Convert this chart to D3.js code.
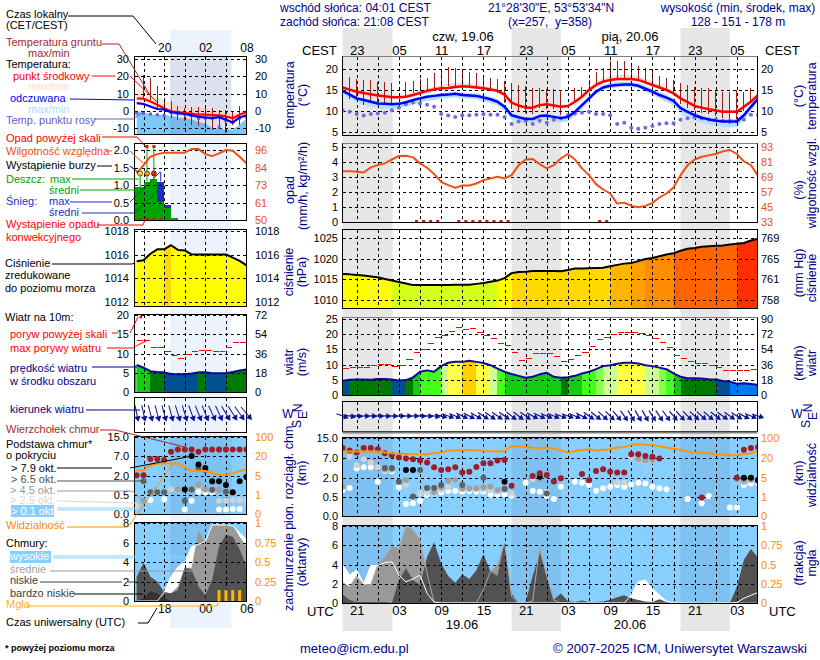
<!DOCTYPE html>
<html>
<head>
<meta charset="utf-8">
<script src="https://d3js.org/d3.v7.min.js"></script>
<style>
html, body { margin: 0; padding: 0; background: #fff; }
svg { display: block; }
text { font-family: "Liberation Sans", Arial, sans-serif; }
</style>
</head>
<body>
<svg id="chart" width="820" height="660"></svg>
<script>
// main panels: one value per hour, hour 0 = 18.06 19 UTC
var tempMid = [15.6,15.1,14.6,14.3,14.0,13.7,13.5,13.3,13.25,13.4,13.8,14.3,14.8,15.1,15.4,15.5,15.7,15.9,15.8,15.6,15.4,15.1,14.8,13.9,12.0,11.3,10.8,10.8,11.4,11.6,11.3,11.0,11.2,12.2,13.4,15.0,16.2,17.0,17.4,17.6,17.6,17.6,17.4,16.8,16.2,15.6,15.0,14.2,13.0,12.1,11.2,10.8,10.4,10.1,9.8,9.8,9.8,11.0,12.2,13.8];
var tempMax = [16.2,15.6,15.1,14.8,14.5,14.2,14,13.8,13.7,13.9,14.3,14.9,15.5,15.8,16.2,16.4,16.7,16.8,16.6,16.3,16.0,15.7,15.3,14.4,12.5,11.8,11.3,11.3,11.9,12.1,11.8,11.5,11.7,12.7,14,15.7,17,17.9,18.4,18.6,18.7,18.6,18.3,17.7,17,16.3,15.6,14.7,13.5,12.6,11.7,11.3,10.9,10.6,10.3,10.3,10.3,11.5,12.8,14.3];
var tempMin = [15.1,14.7,14.2,13.9,13.6,13.3,13.1,12.9,12.9,13.1,13.5,14,14.4,14.7,15,15.2,15.4,15.6,15.4,15.3,15.1,14.8,14.5,13.5,11.6,11,10.5,10.5,11,11.3,11,10.7,10.9,11.9,13.1,14.6,15.8,16.6,17,17.2,17.2,17.2,17,16.4,15.8,15.3,14.7,13.9,12.7,11.8,10.9,10.5,10.1,9.8,9.5,9.5,9.5,10.7,11.8,13.4];
var feltMid = [14.8,13.9,13.0,12.6,12.2,11.8,11.7,11.6,11.7,12.1,12.6,13.0,13.4,13.6,13.8,13.9,14.1,13.8,13.7,13.6,13.2,12.8,12.2,11.0,9.0,8.5,8.1,8.1,8.8,8.9,8.6,8.3,8.6,9.8,11.4,13.0,14.6,15.6,16.0,16.2,16.3,16.3,16.0,15.3,14.6,13.8,13.2,12.4,10.7,9.8,9.0,8.4,8.0,7.7,7.5,7.5,7.5,9.0,11.0,12.9];
var feltMax = [15.2,14.4,13.5,13.1,12.7,12.3,12.2,12.1,12.1,12.5,13,13.4,13.8,14,14.3,14.4,14.6,14.4,14.3,14.2,13.8,13.4,12.8,11.6,9.6,9,8.6,8.6,9.2,9.4,9.1,8.8,9.1,10.3,11.9,13.6,15.2,16.2,16.7,16.9,17,16.9,16.7,16,15.3,14.5,13.9,13,11.3,10.4,9.6,9,8.6,8.3,8.1,8.1,8.1,9.5,11.5,13.3];
var feltMin = [14,13,12.1,11.5,11,10.6,10.5,10.4,10.6,11,11.5,12,12.4,12.6,12.9,13.1,13.3,13,12.9,12.8,12.3,11.9,11.3,10,8,7.5,7.1,7.2,7.8,7.9,7.6,7.2,7.5,8.8,10.5,12.2,13.9,15,15.4,15.6,15.7,15.7,15.4,14.6,13.8,12.9,12.2,11.3,9.6,8.6,7.8,7.2,6.8,6.4,6.2,6.1,6.2,8,10,12.2];
var dewPoint = [10.1,9.8,9.3,8.9,9.3,9.4,9.6,10.2,10.8,11.6,12.0,11.8,11.5,11.0,9.3,8.9,8.6,9.0,9.0,9.1,9.2,9.1,9.1,8.6,6.9,7.5,7.6,6.9,7.7,7.2,7.9,8.3,9.0,9.4,9.6,9.8,9.3,9.3,9,6.9,7.2,6,5.8,6,6.4,6.9,7.1,7.1,7.9,8.3,8.5,8.3,8,7.9,7.7,7.7,7.5,7.9,9.1,9.1];
var groundMax = [15.6,18,17.6,17.5,17.4,16.8,16.8,16.6,13.2,16.8,17.1,17.6,17.8,19,20,20.4,20.3,19.9,19.3,19,18,17.9,17.6,17.1,16.6,16.3,16,15.4,15.4,15.2,15.2,15,11,15.4,15.6,17.4,19.4,20.3,21.9,21.9,21.9,21.2,20.7,20.3,19.4,18.3,17.8,17.4,16.6,16.2,15.8,15.4,15.4,15,14.6,14.6,15,14.6,15.4,14];
var groundMin = [15.6,12.8,12.6,11.5,11.8,11.5,11.5,11.6,13.2,13.5,14.2,14.8,15,15.2,15.4,16,15.8,15.6,15.6,15.4,15.4,15.1,14.2,12,10.5,10,9.6,9.4,10.6,10.5,10.5,9.1,11,11.8,13,14.8,16,17,17.4,17.6,17.6,17.6,17.4,16.8,16.2,15.6,15,14,11.6,10.8,10.2,9.6,9.2,8.8,8.4,7,8,10,11.8,13.6];
var humidity = [73.7,73.7,73.2,72.6,76.7,78.5,79.9,83,85.8,86,84.7,79.9,76.4,71.3,65.1,62.5,60.3,62.2,62.2,63.8,66.5,67.8,69.2,67.8,70.5,78.5,83,83.4,79.3,75.9,78.5,83.9,87.4,83,75.9,70.5,63.3,59,55.8,47.7,48.5,45.9,44.8,45.9,48.3,52.6,55.8,60.6,70.5,78.5,83,85.2,86.3,87.4,89.5,90.6,87.4,81.5,78.5,70];
var convHours = [10,11,12,13,16,17,18,19,20,21,22,23,36,37];
var pressure = [1016.3,1016.2,1016.05,1015.9,1015.7,1015.5,1015.1,1014.7,1014.35,1014,1013.6,1013.6,1013.6,1013.6,1013.65,1013.65,1013.7,1013.7,1013.7,1013.9,1014.1,1014.4,1014.7,1015.3,1016.5,1016.8,1016.85,1017,1017,1017,1017,1016.95,1017.25,1017.6,1017.65,1017.7,1017.75,1017.8,1018.15,1018.5,1018.8,1018.95,1019.4,1019.9,1020.15,1020.6,1021,1021.3,1021.9,1022.4,1022.6,1022.9,1023,1023.1,1023.2,1023.4,1023.6,1023.8,1024.4,1024.8];
var windSpeed = [4.7,5,5.1,5.1,5,5.3,5.3,5.1,4.8,4.9,5.8,7.65,8.1,7.65,9.5,10.6,10.9,10.9,11.3,10.9,10.5,9.8,8.7,7.65,6.9,6.3,5.7,6,6.8,7.3,6,5.7,5.85,6.3,7.1,7.65,8.5,9.5,9.8,10.3,10.6,10.6,10.4,9.8,9.5,9,8.5,7.1,6,5.5,5.5,5.4,5.2,5.1,4.6,4.4,3.7,3.9,3.6,3.3];
var windGust = [8.7,9,9,9,9.7,10.1,10.1,9.4,9.7,11.7,14,14.9,16.8,18.8,19.7,20.9,22.2,21.5,21.9,20.5,19.7,18.6,17,16.3,14,11.5,12,13.7,13.7,13.7,12.7,11,11.7,13,14.1,15.8,18.2,18.9,19.8,20.5,20.6,20.6,20.2,19.6,18.6,17.3,15.7,13,12,11.1,10.4,10.4,9.8,9,8.1,7.9,7.9,7.9,8.4];
var windHeading = [110,100,95,93,92,92,92,92,90,90,90,92,95,100,105,110,112,115,118,120,122,124,125,125,128,128,125,118,115,113,112,110,110,112,118,125,128,132,135,140,145,148,150,150,148,146,144,140,137,135,133,132,130,128,126,124,122,118,113,108];
var visibility = [44.8,44.8,44.8,44.8,44.8,44.8,40.7,38,36.6,35.5,33.8,33.8,33.8,38,40.7,49,49.5,50,51.7,50,47.6,46,44.8,46,68,65.5,63,60.5,59,61,58,49,40.7,46,51.7,54.5,49,52,54.5,61.4,62.8,72.4,75,73,71,66,61.4,56,52,44.8,42.5,40,38,34,32,30,30,35,38,47.6];
var cloudTops = [[0,10.9],[1,9.9],[2,9.1],[3,10.9],[4,10.9],[5,10.4],[6,8.8],[7,8],[8,7.1],[9,6.8],[10,6.6],[11,6.3],[12,5.8],[13,4.6],[14,3.9],[15,4.1],[16,4.6],[17,3.3],[18,3.5],[19,4.7],[20,5.6],[21,5.6],[22,6.3],[23,6.4],[24,1.37],[27,2.4],[28,3.1],[29,2.7],[30,1.7],[31,1.95],[34,2.9],[35,1.8],[36,3.7],[37,4.1],[38,3.5],[39,3.3],[40,3.3],[41,8.4],[42,8.4],[43,7.7],[44,7.4],[45,6.8],[51,0.48],[56,2],[57,10.2],[58,10.9],[59,11.3]];
var baseOver01 = [[0,1.03],[1,1.18],[2,4.3],[3,4.6],[4,4.6],[5,1.68],[6,3.75],[7,3.6],[8,1.24],[9,.31],[10,.33],[11,.39],[12,.63],[13,.76],[14,.84],[15,.95],[16,.95],[17,.9],[18,.95],[19,.9],[20,.9],[21,.63],[22,.68],[23,.68],[24,.58],[26,1.6],[27,.95],[28,.9],[29,.55],[30,.44],[31,1.29],[33,1.68],[34,1.6],[35,1.42],[36,.97],[37,1.16],[38,1.29],[39,1.42],[40,1.29],[41,1.47],[42,1.6],[43,1.55],[44,1.29],[45,1.16],[46,1.08],[49,.44],[51,.33],[52,.55],[55,.22],[56,.22],[57,1.42],[58,1.55],[59,1.6]];
var baseOver25 = [[1,7.4],[2,5.2],[3,6.6],[4,5.8],[5,4.6],[6,4.25],[7,3.9],[9,1.42],[11,.76],[12,.82],[13,.9],[14,1.03],[15,1.24],[16,1.82],[17,1.08],[18,1.08],[19,1.08],[20,1.08],[21,1.03],[22,.9],[23,1.03],[24,.76],[27,1.87],[28,1.87],[29,.9],[39,1.63],[40,1.63],[41,7.4],[42,6.4],[43,6],[44,6.25],[56,1.82],[57,1.6]];
var baseOver45 = [[0,1.29],[6,4.0],[7,4.1],[9,1.82],[13,.82],[14,1.24],[15,1.76],[16,1.82],[17,1.16],[18,1.16],[19,1.16],[20,1.24],[21,1.29],[22,1.03],[23,1.16],[28,1.87],[42,6.6],[43,6.3],[44,6.4],[56,1.87],[57,1.76],[58,1.82],[59,1.82]];
var baseOver65 = [[6,4.4],[7,4.4],[8,1.68],[10,.52],[11,3.95],[12,1.18],[13,1.18],[14,1.42],[17,1.42],[20,2],[23,1.1],[29,.76],[59,1.76]];
var baseOver79 = [[9,3.9],[10,3.9],[23,1.68],[28,2.25],[57,2],[58,2],[59,1.82]];
var cloudHigh = [4,2.9,3.45,2,3.9,3.9,4.2,4.3,2.9,2.2,2.5,2.9,1,.1,0,0,0,0,0,0,0,0,0,0,0,0,0,0,0,0,0,0,0,0,0,0,0,0,0,0,0,.85,2.2,2.4,1.5,.85,.2,0,0,0,0,0,0,0,0,0,.05,.5,.8,1.1];
var cloudMid = [2.1,1.7,2.8,1.9,1.9,4,4.8,5.9,5.7,8,7.6,6.6,3.1,0,0,0,0,0,0,0,1.4,3.3,4,6.3,.7,0,0,.2,5.9,2.8,.3,0,0,0,0,0,0,0,0,0,0,0,0,0,0,0,0,0,0,0,0,0,0,0,0,0,0,0,0,0];
var cloudLow = [.9,.3,.1,.1,.1,.1,.1,0,2.4,3.6,2.4,1.9,4.8,6.3,4.1,2.8,2.1,3,2.5,3.4,5.1,3.3,2.8,6.3,1,0,.1,2.8,5.2,2.8,.35,1,.2,.1,.25,.1,.1,.15,.35,.6,.8,.5,.3,.15,.1,.4,.1,0,0,0,0,.1,0,0,0,0,1.7,4.5,5.6,4.7];

// legend panels at the left: 17 hours, hour 0 = 18.06 14 UTC
var lTempMid = [7.1,7,5.4,3.5,1.5,-.4,-.8,-1.4,-1.7,-2.3,-2.3,-2.5,-2.7,-3.3,-4.3,-2.3,-.8];
var lTempMax = [13.1,11.2,9.7,8.3,6.4,4.4,3.5,2.5,2.1,1.5,1.2,.6,.2,-.4,-1.9,-.4,.6];
var lTempMin = [3.5,3.2,2,.6,0,-1.2,-1.8,-2.3,-3,-3.8,-4.2,-4.6,-4,-5.5,-7,-4.2,-3];
var lFeltMid = [4.4,3.9,2.5,1,.6,-.8,-1.4,-1.9,-2.7,-3.5,-3.9,-4.3,-3.7,-5.2,-6.8,-3.9,-2.7];
var lFeltMax = [-.4,-1,-2,-2.5,-2.5,-3,-4,-4.3,-5,-6.4,-7.5,-10,-10.5,-11,-11,-8,-4.5];
var lFeltMin = [-15,-15,-15,-15,-15,-15,-15,-15,-15,-15,-15,-15,-15,-15,-15,-15,-15];
var lDewPoint = [-1.4,-1.4,-1.9,-2.3,-2.7,-1,-1.4,-1.9,-2.7,-4.3,-4.3,-4.3,-9.5,-5.6,-6.8,-4.3,-3.7];
var lGroundMax = [7,20.9,18.9,14.1,7.3,5.4,2.5,1.5,2.1,2.1,1.5,1.5,.6,.6,-.4,2.9,1.5];
var lGroundMin = [7,6.4,6.4,.6,-1.4,-4.3,-5.2,-6.2,-8.1,-9.1,-10,-11.4,-10,-13,-8.1,-8.1,-3.3];
var lHumidity = [80.6,86,91.6,93.3,94.2,94.2,94.2,94.2,96.6,96.6,93.3,92,93.8,96,95.5,91.6,87.2];
var lRainMean = [.93,1.1,1.16,.52,.33,.05];
var lRainMax = [1.33,2.1,2.1];
var lRainOver = [1,2];
var lSnowMean = [0,0,0,1.1,.43,0];
var lSnowMax = [0,0,0,1.38];
var lStorm = [1,2,3];
var lConvHours = [0,1,2,3];
var lPressure = [1015.44,1015.53,1016.08,1016.45,1016.45,1016.8,1016.4,1016.36,1016.03,1016.02,1016.02,1016.02,1016.02,1016.02,1015.75,1015.47,1015.1];
var lWindSpeed = [7,6.3,5.4,5.2,5.1,4.7,4.6,4.6,4.8,5.1,5.1,4.9,4.9,4.9,5.2,5.6,5.85];
var lWindGust = [13.4,13.4,11.5,11.5,10.5,9.6,8.7,9.8,10.5,10.8,10.8,10.5,10.5,11.6,12.8,12.8];
var lGustOver = [0];
var lWindHeading = [168,168,165,165,165,165,163,163,160,158,158,155,155,150,148,145,140];
var lVisibility = [9.3,9.3,13.1,14.4,14.4,14.4,14.4,11.4,8.8,8.8,8.8,7.3,6,6,6.8,8.8,9.8];
var lCloudTops = [[0,2.17],[1,2.17],[2,6.24],[3,6.24],[4,6],[5,8.8],[6,9.76],[7,9.76],[8,9.76],[9,8.8],[10,9.76],[11,9.76],[12,9.76],[13,9.76],[14,9.76],[15,9.76],[16,9.76]];
var lBaseOver01 = [[2,.37],[4,.39],[7,.12],[8,.35],[9,.76],[10,.71],[11,.71],[12,.12],[13,.12],[14,.13],[15,.13]];
var lBaseOver25 = [[0,.21],[5,.94],[6,.89],[9,1.15],[12,.35],[13,.35],[14,.37],[15,.37],[16,.37]];
var lBaseOver45 = [[1,.35],[6,.94],[8,.94],[9,1.28],[10,.94],[11,1.53],[12,.94],[13,.76],[14,.63]];
var lBaseOver65 = [[1,1.59],[2,.71],[3,.71],[4,.71],[7,.35],[8,.94],[9,3.87],[10,3.44],[11,.89],[13,.76]];
var lBaseOver79 = [[7,.94],[8,7],[9,4.88],[10,4.03],[11,1.59],[12,1.59],[13,1.28],[14,.71],[15,1.59],[16,1.92]];
var lCloudHigh = [0,0,0,0,.9,2.5,3.5,4,5.6,5.8,6.1,7.8,7.8,7.8,7.7,7,6.3];
var lCloudMid = [2,2,2,1.8,.9,.8,1.5,3.4,3.4,7.2,6,7.8,7.8,7.8,7.8,6.6,5.6];
var lCloudLow = [2.5,3.95,2.5,2,.9,.8,1.1,3.4,3.2,1.5,.6,2.2,5.6,6.8,6.6,5.3,3.5];
var lCloudVeryLow = [0,.3,1,.8,.3,0,0,0,0,0,0,0,0,0,0,0,0];
var lFog = [0,0,0,0,0,0,0,0,0,0,0,0,.14,.14,.14,.14,0];

// tick labels
var tempTicks = [5,10,15,20];
var rainTicks = [0,1,2,3,4,5];
var rhLabels = ["33","45","57","69","81","93"];
var presTicks = [1010,1015,1020,1025];
var mmHgLabels = ["758","761","765","769"];
var windTicks = [0,5,10,15,20,25];
var kmhLabels = ["0","18","36","54","72","90"];
var baseTicks = [0,.5,2,7,15];
var baseLabels = ["0.0","0.5","2.0","7.0","15.0"];
var visLabels = ["0","1","5","20","100"];
var cloudTicks = [0,2,4,6,8];
var fogLabels = ["0","0.25","0.5","0.75","1"];
var lTempTicks = [-10,0,10,20,30];
var lRainTicks = [0,.5,1,1.5,2];
var lRainLabels = ["0.0","0.5","1.0","1.5","2.0"];
var lRhLabels = ["50","61","73","84","96"];
var lPresTicks = [1012,1014,1016,1018];
var lWindTicks = [0,5,10,15,20];
var lKmhLabels = ["0","18","36","54","72"];
var localHours = [2,8,14,20,26,32,38,44,50,56];
var localLabels = ["23","05","11","17","23","05","11","17","23","05"];
var utcLabels = ["21","03","09","15","21","03","09","15","21","03"];
var lLocalHours = [4,10,16];
var lLocalLabels = ["20","02","08"];
var lUtcLabels = ["18","00","06"];
var mainGridHours = d3.range(2, 59, 3);
var lGridHours = [1,4,7,10,13];
var nightHours = [[0,7.1],[24,31],[48,55]];
var lNightHours = [4.85,13.8];

var NAVY = "#00008b", HUM = "#ee4f12", ORANGE = "#ff8c00", SKY = "#87cfff";

var presColor = d3.scaleThreshold()
    .domain([1014.9,1016.62,1018.2,1019,1020,1021.5,1023.6])
    .range(["#d4ff1a","#ffff00","#ffd800","#ffb400","#ffa000","#ff8c00","#ff6400","#ff3000"]);
var windColor = d3.scaleThreshold()
    .domain([4.5,5.02,5.8,7.3,8.6,9.1,10.1,11])
    .range(["#0078f0","#005090","#007a00","#14cc14","#44ff1e","#88ff50","#ccff90","#ffff44","#ffd000"]);

var svg = d3.select("#chart");
var defs = svg.append("defs");
var clipCount = 0;

var xMain = d3.scaleLinear().domain([0,59]).range([342.6,758]);
var xLeft = d3.scaleLinear().domain([0,16]).range([136.7,246.5]);

// night bands behind everything
nightHours.forEach(function(n){
    svg.append("rect").attr("x", xMain(n[0])).attr("y", 28)
        .attr("width", xMain(n[1]) - xMain(n[0])).attr("height", 603).attr("fill", "#e6e6e6");
});
svg.append("rect").attr("x", xLeft(lNightHours[0])).attr("y", 30)
    .attr("width", xLeft(lNightHours[1]) - xLeft(lNightHours[0])).attr("height", 598).attr("fill", "#edf3fd");

function makePanel(x, xs, top, bottom, right){
    // clipped group for marks, frame is added by drawFrame
    let id = "clip" + (clipCount++);
    defs.append("clipPath").attr("id", id).append("rect")
        .attr("x", x).attr("y", top).attr("width", right - x).attr("height", bottom - top);
    let g = svg.append("g").attr("clip-path", "url(#" + id + ")");
    return {g: g, x: x, right: right, top: top, bottom: bottom, xs: xs};
}

function fillPanel(p, color){
    p.g.append("rect").attr("x", p.x).attr("y", p.top)
        .attr("width", p.right - p.x).attr("height", p.bottom - p.top).attr("fill", color);
}

function shadeNight(p, nights){
    nights.forEach(function(n){
        p.g.append("rect").attr("x", p.xs(n[0])).attr("y", p.top)
            .attr("width", p.xs(n[1]) - p.xs(n[0])).attr("height", p.bottom - p.top)
            .attr("fill", "rgba(40,40,80,0.09)");
    });
}

function drawGrid(p, y, ticks, hours){
    let h = p.g.append("g").call(d3.axisLeft(y).tickValues(ticks).tickSize(p.x - p.right).tickFormat(""))
        .attr("transform", "translate(" + p.x + ",0)");
    let v = p.g.append("g").call(d3.axisTop(p.xs).tickValues(hours).tickSize(p.top - p.bottom).tickFormat(""))
        .attr("transform", "translate(0," + p.top + ")");
    [h, v].forEach(function(a){
        a.select(".domain").remove();
        a.selectAll("line").attr("stroke", "#000").attr("stroke-dasharray", "3,3").attr("shape-rendering", "crispEdges");
    });
}

function drawFrame(p){
    svg.append("rect").attr("x", p.x - 0.5).attr("y", p.top - 0.5)
        .attr("width", p.right - p.x + 1).attr("height", p.bottom - p.top + 1)
        .attr("fill", "none").attr("stroke", "#000").attr("shape-rendering", "crispEdges");
}

function shadowLine(p, y, h){
    // the grey edge some of the panels have
    svg.append("rect").attr("x", p.x - 0.5).attr("y", y).attr("width", p.right - p.x + 1)
        .attr("height", h).attr("fill", "#808080");
}

function yAxisLabels(y, ticks, labels, x, side, color){
    let axis = side == "left" ? d3.axisLeft(y) : d3.axisRight(y);
    axis.tickValues(ticks).tickSize(0).tickPadding(0).tickFormat(function(d, i){ return labels[i]; });
    let g = svg.append("g").attr("transform", "translate(" + x + ",0)").call(axis);
    g.select(".domain").remove();
    g.selectAll("text").attr("fill", color).style("font-size", "11px")
        .style("font-family", '"Liberation Sans", Arial, sans-serif');
}

function bandArea(p, upper, lower, y, color){
    let area = d3.area().x(function(d, i){ return p.xs(i); })
        .y0(function(d, i){ return y(lower[i]); }).y1(function(d){ return y(d); });
    p.g.append("path").attr("d", area(upper)).attr("fill", color);
}

function seriesLine(p, values, y, color, width){
    let line = d3.line().x(function(d, i){ return p.xs(i); }).y(function(d){ return y(d); });
    p.g.append("path").attr("d", line(values)).attr("fill", "none")
        .attr("stroke", color).attr("stroke-width", width).attr("stroke-linejoin", "round");
}

function colorStrips(p, values, y, colorOf){
    // one filled segment per hour, the colour follows the value
    let base = p.bottom + 2;
    d3.range(values.length - 1).forEach(function(i){
        let area = d3.area().x(function(d){ return p.xs(d); })
            .y0(base).y1(function(d){ return y(values[d]); });
        p.g.append("path").attr("d", area([i, i + 1])).attr("shape-rendering", "crispEdges")
            .attr("fill", colorOf((values[i] + values[i + 1]) / 2));
    });
    // first hour of the left panels starts a little inside the frame
    if (p.xs(0) > p.x){
        p.g.append("rect").attr("x", p.x).attr("width", p.xs(0) - p.x)
            .attr("y", y(values[0])).attr("height", base - y(values[0]))
            .attr("fill", colorOf(values[0]));
    }
}

function groundBars(p, maxes, mins, y){
    p.g.selectAll(".gnd").data(maxes).enter().append("line")
        .attr("x1", function(d, i){ return p.xs(i); }).attr("x2", function(d, i){ return p.xs(i); })
        .attr("y1", function(d){ return y(d); }).attr("y2", function(d, i){ return y(mins[i]); })
        .attr("stroke", "#a31a1a").attr("stroke-width", 1).attr("shape-rendering", "crispEdges");
}

function gustDashes(p, gusts, y){
    p.g.selectAll(".gust").data(gusts).enter().append("line")
        .attr("x1", function(d, i){ return p.xs(i) + 0.5; }).attr("x2", function(d, i){ return p.xs(i + 1) - 0.5; })
        .attr("y1", function(d){ return y(d); }).attr("y2", function(d){ return y(d); })
        .attr("stroke", "#f00").attr("stroke-width", 1).attr("shape-rendering", "crispEdges");
}

function arrows(xs, headings, cy, len, head, width){
    let g = svg.append("g");
    headings.forEach(function(h, i){
        let a = g.append("g").attr("transform", "translate(" + xs(i) + "," + cy + ") rotate(" + (h - 90) + ")");
        a.append("line").attr("x1", -len).attr("x2", len - 2).attr("stroke", "#0a1496").attr("stroke-width", width);
        a.append("path").attr("d", d3.line()([[len, 0], [len - head, -head * 0.6], [len - head, head * 0.6]]))
            .attr("fill", "#0a1496");
    });
}

function cloudDots(p, list, y, color){
    p.g.selectAll(".dot").data(list).enter().append("circle")
        .attr("cx", function(d){ return p.xs(d[0]); }).attr("cy", function(d){ return y(d[1]); })
        .attr("r", 3).attr("fill", color);
}

function hourDots(p, values, y, color, r){
    p.g.selectAll(".dew").data(values).enter().append("circle")
        .attr("cx", function(d, i){ return p.xs(i); }).attr("cy", function(d){ return y(d); })
        .attr("r", r).attr("fill", color);
}

function convMarks(p, hours, y0){
    p.g.selectAll(".conv").data(hours).enter().append("rect")
        .attr("x", function(d){ return p.xs(d + 0.5) - 1.5; }).attr("y", y0 - 1)
        .attr("width", 3).attr("height", 2).attr("fill", "#e01010");
}

function drawMain(){
    let L = 343, R = 757;
    let tickL = 338, tickR = 761;

    // temperature
    let y = d3.scaleLinear().domain([5,20]).range([132,69]);
    let p = makePanel(L, xMain, 57, 135, R);
    bandArea(p, tempMax, tempMin, y, "#ffdcd4");
    bandArea(p, feltMax, feltMin, y, "#b4e0ff");
    groundBars(p, groundMax, groundMin, y);
    drawGrid(p, y, tempTicks, mainGridHours);
    hourDots(p, dewPoint, y, "#7868e0", 2);
    seriesLine(p, tempMid, y, "#f00", 2.5);
    seriesLine(p, feltMid, y, "#00f", 2.5);
    drawFrame(p);
    shadowLine(p, 56, 1);
    yAxisLabels(y, tempTicks, tempTicks.map(String), tickL, "left", "#000");
    yAxisLabels(y, tempTicks, tempTicks.map(String), tickR, "right", "#000");

    // precipitation and humidity
    y = d3.scaleLinear().domain([0,5]).range([222,147]);
    p = makePanel(L, xMain, 144, 222, R);
    drawGrid(p, y, rainTicks, mainGridHours);
    let rh = d3.scaleLinear().domain([33,93]).range([222,147]);
    seriesLine(p, humidity, rh, HUM, 2);
    convMarks(p, convHours, 221);
    drawFrame(p);
    shadowLine(p, 143, 1);
    yAxisLabels(y, rainTicks, rainTicks.map(String), tickL, "left", "#000");
    yAxisLabels(y, rainTicks, rhLabels, tickR, "right", HUM);

    // pressure
    y = d3.scaleLinear().domain([1010,1025]).range([300,238]);
    p = makePanel(L, xMain, 230, 308, R);
    colorStrips(p, pressure, y, presColor);
    drawGrid(p, y, presTicks, mainGridHours);
    seriesLine(p, pressure, y, "#000", 2);
    drawFrame(p);
    yAxisLabels(y, presTicks, presTicks.map(String), tickL, "left", "#000");
    yAxisLabels(y, presTicks, mmHgLabels, tickR, "right", "#000");

    // wind
    y = d3.scaleLinear().domain([0,25]).range([395,319]);
    p = makePanel(L, xMain, 318, 395, R);
    colorStrips(p, windSpeed, y, windColor);
    drawGrid(p, y, windTicks, mainGridHours);
    gustDashes(p, windGust, y);
    seriesLine(p, windSpeed, y, "#0a0a96", 2);
    drawFrame(p);
    shadowLine(p, 317, 1);
    yAxisLabels(y, windTicks, windTicks.map(String), tickL, "left", "#000");
    yAxisLabels(y, windTicks, kmhLabels, tickR, "right", "#000");

    // wind direction
    p = makePanel(L, xMain, 402, 431, R);
    drawGrid(p, d3.scaleLinear().domain([0,1]).range([431,402]), [], mainGridHours);
    drawFrame(p);
    shadowLine(p, 431.5, 2);
    arrows(xMain, windHeading, 416, 6.5, 5, 1.2);

    // cloud base and visibility
    y = d3.scaleLinear().domain(baseTicks).range([516,496.7,477.7,457.7,438]);
    let vis = d3.scaleLinear().domain([0,1,5,20,100]).range([516,496.7,477.7,457.7,438]);
    p = makePanel(L, xMain, 438, 516, R);
    fillPanel(p, SKY);
    shadeNight(p, nightHours);
    drawGrid(p, y, baseTicks, mainGridHours);
    cloudDots(p, baseOver01, y, "#fff");
    cloudDots(p, baseOver25, y, "#d2d2d2");
    cloudDots(p, baseOver45, y, "#a0a0a0");
    cloudDots(p, baseOver65, y, "#606060");
    cloudDots(p, baseOver79, y, "#000");
    cloudDots(p, cloudTops, y, "#a01c28");
    seriesLine(p, visibility, vis, "#ff9600", 2);
    drawFrame(p);
    yAxisLabels(y, baseTicks, baseLabels, tickL, "left", "#000");
    yAxisLabels(y, baseTicks, visLabels, tickR, "right", ORANGE);

    // cloud cover
    y = d3.scaleLinear().domain([0,8]).range([603,526]);
    p = makePanel(L, xMain, 526, 603, R);
    fillPanel(p, SKY);
    shadeNight(p, nightHours);
    bandArea(p, cloudHigh, cloudHigh.map(function(){ return 0; }), y, "#fff");
    bandArea(p, cloudMid, cloudMid.map(function(){ return 0; }), y, "#999");
    bandArea(p, cloudLow, cloudLow.map(function(){ return 0; }), y, "#525252");
    drawGrid(p, y, cloudTicks, mainGridHours);
    seriesLine(p, cloudMid, y, "#aaa", 1);
    seriesLine(p, cloudHigh, y, "#fff", 1);
    drawFrame(p);
    yAxisLabels(y, cloudTicks, cloudTicks.map(String), tickL, "left", "#000");
    yAxisLabels(y, cloudTicks, fogLabels, tickR, "right", ORANGE);

    // time labels
    let top = svg.append("g").attr("transform", "translate(0,51)")
        .call(d3.axisTop(xMain).tickValues(localHours).tickSize(0).tickPadding(-4)
            .tickFormat(function(d, i){ return localLabels[i]; }));
    let bottom = svg.append("g").attr("transform", "translate(0,604)")
        .call(d3.axisBottom(xMain).tickValues(localHours).tickSize(0).tickPadding(2)
            .tickFormat(function(d, i){ return utcLabels[i]; }));
    [top, bottom].forEach(function(a){
        a.select(".domain").remove();
        a.selectAll("text").style("font-size", "13px").style("font-family", '"Liberation Sans", Arial, sans-serif');
    });
}

function drawLegendPanels(){
    let L = 135, R = 246;
    let tickL = 129, tickR = 255;

    let y = d3.scaleLinear().domain([-10,30]).range([128,59]);
    let p = makePanel(L, xLeft, 57, 134, R);
    bandArea(p, lTempMax, lTempMin, y, "#ffe6da");
    bandArea(p, lFeltMax, lFeltMin, y, "#7cc8fa");
    shadeNight(p, [lNightHours]);
    groundBars(p, lGroundMax, lGroundMin, y);
    drawGrid(p, y, lTempTicks, lGridHours);
    p.g.selectAll(".dew").data(lDewPoint).enter().append("rect")
        .attr("x", function(d, i){ return xLeft(i) - 1.5; }).attr("y", function(d){ return y(d) - 1.5; })
        .attr("width", 3).attr("height", 3).attr("fill", "#6a5acd");
    seriesLine(p, lTempMid, y, "#f00", 2.2);
    seriesLine(p, lFeltMid, y, "#00f", 2.2);
    drawFrame(p);
    yAxisLabels(y, lTempTicks, lTempTicks.map(String), tickL, "left", "#000");
    yAxisLabels(y, lTempTicks, lTempTicks.map(String), tickR, "right", "#000");

    y = d3.scaleLinear().domain([0,2]).range([220,150]);
    p = makePanel(L, xLeft, 144, 220, R);
    function hourBars(values, color){
        p.g.selectAll(".bar").data(values).enter().append("rect")
            .attr("x", function(d, i){ return i == 0 ? L : xLeft(i); })
            .attr("width", function(d, i){ return xLeft(i + 1) - (i == 0 ? L : xLeft(i)); })
            .attr("y", function(d){ return y(d); }).attr("height", function(d){ return 220 - y(d); })
            .attr("fill", color).attr("shape-rendering", "crispEdges");
    }
    hourBars(lSnowMean, "#1a2fc8");
    hourBars(lRainMean, "#00a400");
    drawGrid(p, y, lRainTicks, lGridHours);
    p.g.selectAll(".rmax").data(lRainMax).enter().append("line")
        .attr("x1", function(d, i){ return xLeft(i + .5); }).attr("x2", function(d, i){ return xLeft(i + .5); })
        .attr("y1", function(d){ return y(d); }).attr("y2", function(d, i){ return y(lRainMean[i]); })
        .attr("stroke", "#00a400");
    p.g.selectAll(".smax").data(lSnowMax).enter().append("line")
        .attr("x1", function(d, i){ return xLeft(i + .5); }).attr("x2", function(d, i){ return xLeft(i + .5); })
        .attr("y1", function(d){ return y(d); }).attr("y2", function(d, i){ return y(lSnowMean[i]); })
        .attr("stroke", "#1a2fc8");
    let rh = d3.scaleLinear().domain([50,96]).range([220,150]);
    seriesLine(p, lHumidity, rh, HUM, 2);
    convMarks(p, lConvHours, 219);
    let stormColor = d3.scaleOrdinal().domain([1,2,3]).range(["#ffe020","#ffa000","#e82010"]);
    p.g.selectAll(".storm").data(lStorm).enter().append("circle")
        .attr("cx", function(d, i){ return xLeft(i + .5); }).attr("cy", y(1.33)).attr("r", 2.5)
        .attr("fill", function(d){ return stormColor(d); }).attr("stroke", "#000").attr("stroke-width", 0.6);
    p.g.selectAll(".over").data(lRainOver).enter().append("rect")
        .attr("x", function(d){ return xLeft(d + .5) - 1.5; }).attr("y", y(2.1) - 1.5)
        .attr("width", 3).attr("height", 3).attr("fill", "#f00");
    drawFrame(p);
    yAxisLabels(y, lRainTicks, lRainLabels, tickL, "left", "#000");
    yAxisLabels(y, lRainTicks, lRhLabels, tickR, "right", HUM);

    y = d3.scaleLinear().domain([1012,1018]).range([302,231]);
    p = makePanel(L, xLeft, 230, 306, R);
    colorStrips(p, lPressure, y, presColor);
    drawGrid(p, y, lPresTicks, lGridHours);
    seriesLine(p, lPressure, y, "#000", 2);
    drawFrame(p);
    yAxisLabels(y, lPresTicks, lPresTicks.map(String), tickL, "left", "#000");
    yAxisLabels(y, lPresTicks, lPresTicks.map(String), tickR, "right", "#000");

    y = d3.scaleLinear().domain([0,20]).range([392,315]);
    p = makePanel(L, xLeft, 315, 392, R);
    colorStrips(p, lWindSpeed, y, windColor);
    drawGrid(p, y, lWindTicks, lGridHours);
    gustDashes(p, lWindGust, y);
    p.g.selectAll(".over").data(lGustOver).enter().append("circle")
        .attr("cx", function(d){ return xLeft(d + .6); }).attr("cy", 317).attr("r", 1.5).attr("fill", "#f00");
    seriesLine(p, lWindSpeed, y, "#0a0a96", 2);
    drawFrame(p);
    yAxisLabels(y, lWindTicks, lWindTicks.map(String), tickL, "left", "#000");
    yAxisLabels(y, lWindTicks, lKmhLabels, tickR, "right", "#000");

    p = makePanel(L, xLeft, 398, 432, R);
    drawGrid(p, d3.scaleLinear().domain([0,1]).range([432,398]), [], lGridHours);
    drawFrame(p);
    arrows(xLeft, lWindHeading, 413.5, 8.5, 5.5, 1);

    y = d3.scaleLinear().domain(baseTicks).range([514,495,476,456,437]);
    let vis = d3.scaleLinear().domain([0,1,5,20,100]).range([514,495,476,456,437]);
    p = makePanel(L, xLeft, 437, 514, R);
    fillPanel(p, SKY);
    shadeNight(p, [lNightHours]);
    drawGrid(p, y, baseTicks, lGridHours);
    cloudDots(p, lBaseOver01, y, "#fff");
    cloudDots(p, lBaseOver25, y, "#d2d2d2");
    cloudDots(p, lBaseOver45, y, "#a0a0a0");
    cloudDots(p, lBaseOver65, y, "#606060");
    cloudDots(p, lBaseOver79, y, "#000");
    cloudDots(p, lCloudTops, y, "#a01c28");
    seriesLine(p, lVisibility, vis, "#ff9600", 2);
    drawFrame(p);
    yAxisLabels(y, baseTicks, baseLabels, tickL, "left", "#000");
    yAxisLabels(y, baseTicks, visLabels, tickR, "right", ORANGE);

    y = d3.scaleLinear().domain([0,8]).range([601,523]);
    p = makePanel(L, xLeft, 523, 601, R);
    fillPanel(p, SKY);
    shadeNight(p, [lNightHours]);
    let zero = lCloudHigh.map(function(){ return 0; });
    bandArea(p, lCloudHigh, zero, y, "#fff");
    bandArea(p, lCloudMid, zero, y, "#999");
    bandArea(p, lCloudLow, zero, y, "#525252");
    bandArea(p, lCloudVeryLow, zero, y, "#333");
    drawGrid(p, y, cloudTicks, lGridHours);
    seriesLine(p, lCloudHigh, y, "#fff", 1);
    let fog = d3.scaleLinear().domain([0,1]).range([601,523]);
    p.g.selectAll(".fog").data(lFog).enter().append("rect")
        .attr("x", function(d, i){ return xLeft(i) - 1.5; }).attr("width", 3)
        .attr("y", function(d){ return fog(d); }).attr("height", function(d){ return 601 - fog(d); })
        .attr("fill", "#ffb400");
    drawFrame(p);
    yAxisLabels(y, cloudTicks, cloudTicks.map(String), tickL, "left", "#000");
    yAxisLabels(y, cloudTicks, fogLabels, tickR, "right", ORANGE);

    let top = svg.append("g").attr("transform", "translate(0,48)")
        .call(d3.axisTop(xLeft).tickValues(lLocalHours).tickSize(0).tickPadding(-4)
            .tickFormat(function(d, i){ return lLocalLabels[i]; }));
    let bottom = svg.append("g").attr("transform", "translate(0,602)")
        .call(d3.axisBottom(xLeft).tickValues(lLocalHours).tickSize(0).tickPadding(2)
            .tickFormat(function(d, i){ return lUtcLabels[i]; }));
    [top, bottom].forEach(function(a){
        a.select(".domain").remove();
        a.selectAll("text").style("font-size", "12px").style("font-family", '"Liberation Sans", Arial, sans-serif');
    });
}

function drawLeaders(){
    // thin lines from the legend words to the marks they explain
    let leaders = [
        ["#000", [[68,16],[133,16],[156,44]]],
        ["#a52a2a", [[102,44],[119,44],[150,95]]],
        ["#f00", [[92,76],[115,76]]], ["#f00", [[130,76],[157,102]]],
        ["#00f", [[70,99],[135,100]]],
        ["#6a5acd", [[94,119],[133,119],[142,113]]],
        ["#f00", [[102,137],[137,137],[146,147]]],
        [HUM, [[106,151],[112,151]]], [HUM, [[130,151],[143,163]]],
        ["#000", [[97,166],[112,166]]], ["#000", [[130,166],[138,172]]],
        ["#00a400", [[72,179],[139,179]]],
        ["#00a400", [[80,190],[145,190]]],
        ["#1a2fc8", [[70,202],[112,202]]], ["#1a2fc8", [[130,202],[160,172]]],
        ["#1a2fc8", [[82,213],[135,213],[160,188]]],
        ["#f00", [[97,225],[143,225],[145,220]]],
        ["#000", [[52,264],[132,264],[135,263]]],
        ["#f00", [[112,333],[118,333]]], ["#f00", [[130,333],[138,317]]],
        ["#f00", [[107,348],[132,348],[148,340]]],
        [NAVY, [[92,367],[137,367]]],
        [NAVY, [[86,410],[140,410]]],
        ["#a52a2a", [[100,430],[115,430],[185,447]]],
        ["#000", [[57,468],[112,468]]], ["#000", [[130,468],[192,456]]],
        ["#505050", [[57,481],[143,481]]],
        ["#999", [[57,491],[132,491],[143,500]]],
        ["#d8d8d8", [[57,501],[137,503]]],
        [SKY, [[57,508],[135,508]]], [SKY, [[57,510],[135,510]]],
        [ORANGE, [[67,527],[128,527],[172,465]]],
        [SKY, [[53,556],[185,556]]], [SKY, [[53,558],[185,558]]],
        ["#999", [[50,571],[193,571]]],
        ["#404040", [[40,582],[122,582]]], ["#404040", [[128,582],[137,582]]],
        ["#000", [[74,594],[143,594]]],
        ["#ffb400", [[27,606],[217,606],[219,600]]],
        ["#000", [[138,623],[148,623],[157,608]]]
    ];
    let line = d3.line();
    leaders.forEach(function(l){
        svg.append("path").attr("d", line(l[1])).attr("fill", "none").attr("stroke", l[0]).attr("stroke-width", 1);
    });
}

function drawTexts(){
    // text, x, baseline, colour
    let legend = [
        ["Czas lokalny",6,18,"#000"],["(CET/CEST)",6,29,"#000"],
        ["Temperatura gruntu",6,46,"#a52a2a"],["max/min",28,57,"#a52a2a"],
        ["Temperatura:",6,68,"#000"],["punkt środkowy",13,80,"#f00"],["max/min",28,90,"#ffdcc8"],
        ["odczuwana",10,102,"#00f"],["max/min",28,113,"#a8dcff"],["Temp. punktu rosy",6,124,"#6a5acd"],
        ["Opad powyżej skali",6,142,"#f00"],["Wilgotność względna",6,155,HUM],["Wystąpienie burzy",6,169,"#000"],
        ["Deszcz:",6,183,"#00a400"],["max",50,183,"#00a400"],["średni",49,194,"#00a400"],
        ["Śnieg:",6,205,"#1a2fc8"],["max",49,205,"#1a2fc8"],["średni",49,216,"#1a2fc8"],
        ["Wystąpienie opadu",6,228,"#f00"],["konwekcyjnego",6,241,"#f00"],
        ["Ciśnienie",5,267,"#000"],["zredukowane",5,279,"#000"],["do poziomu morza",5,292,"#000"],
        ["Wiatr na 10m:",5,321,"#000"],["poryw powyżej skali",10,338,"#f00"],["max porywy wiatru",10,352,"#f00"],
        ["prędkość wiatru",10,372,NAVY],["w środku obszaru",10,385,NAVY],["kierunek wiatru",10,413,NAVY],
        ["Wierzchołek chmur",6,433,"#a52a2a"],["Podstawa chmur*",6,448,"#000"],["o pokryciu",6,459,"#000"],
        ["> 7.9 okt.",11,472,"#000"],["> 6.5 okt.",11,483,"#505050"],["> 4.5 okt.",10,494,"#999"],["> 2.5 okt.",10,504,"#d8d8d8"],
        ["Widzialność",6,529,ORANGE],["Chmury:",6,547,"#000"],
        ["średnie",10,573,"#a0a0a0"],["niskie",10,584,"#404040"],["bardzo niskie",10,597,"#404040"],["Mgła",6,608,"#ffb400"],
        ["Czas uniwersalny (UTC)",6,626,"#000"]
    ];
    svg.append("rect").attr("x", 11).attr("y", 505).attr("width", 43).attr("height", 12).attr("fill", SKY);
    svg.append("rect").attr("x", 10).attr("y", 551).attr("width", 41).attr("height", 12).attr("fill", SKY);
    legend.push(["> 0.1 okt.",11,515,"#fff"]);
    legend.push(["wysokie",10,560,"#fff"]);
    svg.selectAll(".legend").data(legend).enter().append("text")
        .attr("x", function(d){ return d[1]; }).attr("y", function(d){ return d[2]; })
        .attr("fill", function(d){ return d[3]; }).attr("font-size", "11px")
        .text(function(d){ return d[0]; });

    svg.append("text").attr("x", 5).attr("y", 651).attr("font-size", "9px").attr("font-weight", "bold")
        .text("* powyżej poziomu morza");

    // text, x, baseline, colour, size, anchor
    let header = [
        ["wschód słońca: 04:01 CEST",280,12,NAVY,12,"start"],["zachód słońca: 21:08 CEST",280,26,NAVY,12,"start"],
        ["21°28'30\"E, 53°53'34\"N",551,12,NAVY,12,"middle"],["(x=257,\u00a0 y=358)",550,26,NAVY,12,"middle"],
        ["wysokość (min, środek, max)",738,12,NAVY,12,"middle"],["128 - 151 - 178 m",738,26,NAVY,12,"middle"],
        ["czw, 19.06",463,41,"#000",13,"middle"],["pią, 20.06",630,41,"#000",13,"middle"],
        ["CEST",302,55,"#000",13,"start"],["CEST",765,55,"#000",13,"start"],
        ["UTC",307,616,"#000",13,"start"],["UTC",769,616,"#000",13,"start"],
        ["19.06",462,629,"#000",13,"middle"],["20.06",630,629,"#000",13,"middle"],
        ["meteo@icm.edu.pl",300,653,NAVY,13,"start"],
        ["© 2007-2025 ICM, Uniwersytet Warszawski",553,653,NAVY,13.2,"start"]
    ];
    svg.selectAll(".head").data(header).enter().append("text")
        .attr("x", function(d){ return d[1]; }).attr("y", function(d){ return d[2]; })
        .attr("fill", function(d){ return d[3]; }).attr("font-size", function(d){ return d[4] + "px"; })
        .attr("text-anchor", function(d){ return d[5]; })
        .text(function(d){ return d[0]; });

    // rotated titles: text, x, y centre
    let titles = [
        ["temperatura",294,95],["(°C)",307,95],["opad",294,190],["(mm/h, kg/m²/h)",307,186],
        ["ciśnienie",293,272],["(hPa)",306,272],["wiatr",293,362],["(m/s)",306,362],
        ["pion. rozciągł. chm.",293,476],["(km)",306,473],["zachmurzenie",293,572],["(oktanty)",306,562],
        ["(°C)",803,96],["temperatura",816,96],["(%)",803,190],["wilgotność wzgl.",816,183],
        ["(mm Hg)",803,273],["ciśnienie",816,278],["(km/h)",803,363],["wiatr",816,363],
        ["(km)",803,473],["widzialność",816,475],["(frakcja)",803,563],["mgła",816,563]
    ];
    svg.selectAll(".title").data(titles).enter().append("text")
        .attr("transform", function(d){ return "translate(" + d[1] + "," + d[2] + ") rotate(-90)"; })
        .attr("text-anchor", "middle").attr("fill", NAVY).attr("font-size", "12.5px")
        .text(function(d){ return d[0]; });

    // compass marks beside the direction panel
    let compass = [["W",288,415,0],["N",299,408,-90],["E",304,415,-90],["S",298,424,-90],
                   ["W",797,415,0],["N",809,408,-90],["E",814,416,-90],["S",807,424,-90]];
    svg.selectAll(".compass").data(compass).enter().append("text")
        .attr("transform", function(d){ return "translate(" + d[1] + "," + d[2] + ") rotate(" + d[3] + ")"; })
        .attr("text-anchor", "middle").attr("dominant-baseline", "middle")
        .attr("fill", NAVY).attr("font-size", "12px")
        .text(function(d){ return d[0]; });
}

drawMain();
drawLegendPanels();
drawLeaders();
drawTexts();
</script>
</body>
</html>
